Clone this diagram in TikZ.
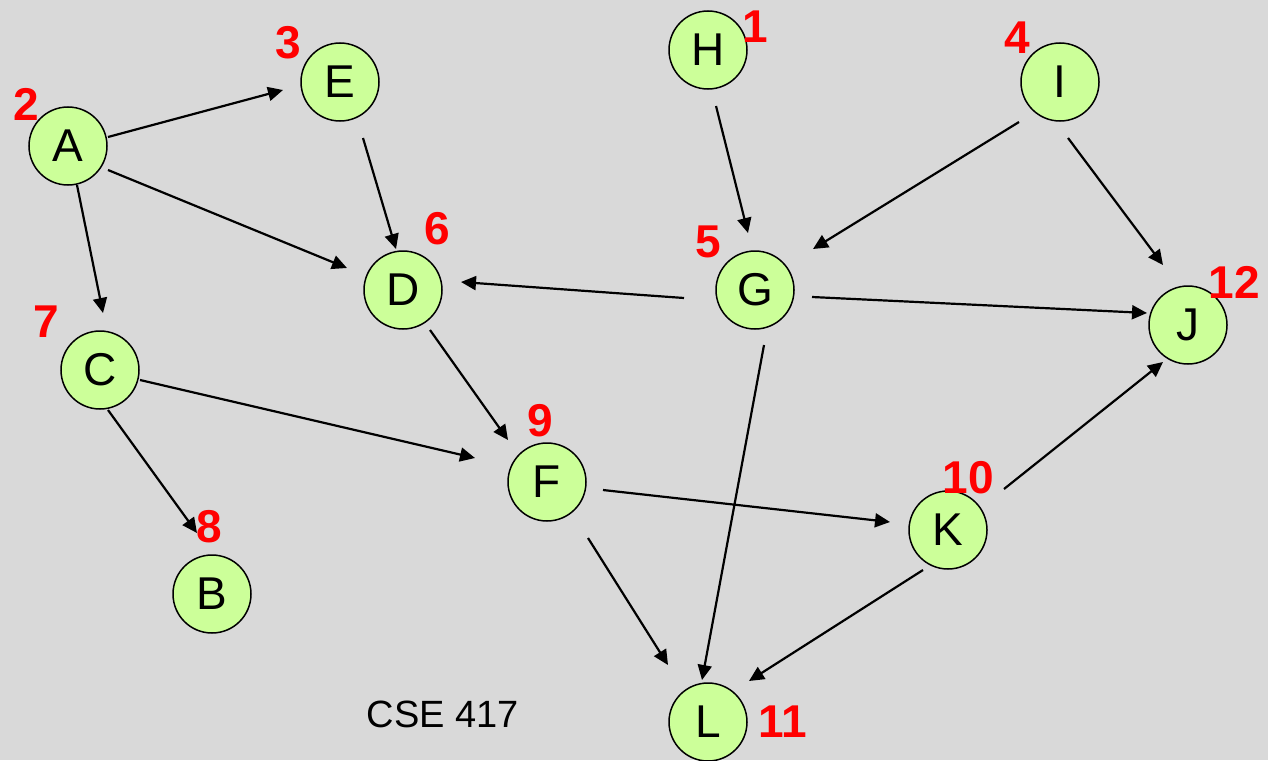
\documentclass[tikz,border=0pt]{standalone}
\usepackage{fontspec}
\setmainfont{Liberation Sans}
\usetikzlibrary{arrows.meta}
\definecolor{bgcol}{HTML}{D9D9D9}
\definecolor{nodefill}{HTML}{CCFF99}
\begin{document}
\begin{tikzpicture}[x=1pt,y=-1pt,
  vert/.style={circle, draw=black, line width=1.5pt, fill=nodefill, minimum size=78pt, inner sep=0pt, font=\fontsize{46}{46}\selectfont},
  num/.style={text=red, font=\fontsize{46}{46}\selectfont\bfseries, inner sep=0pt},
  arr/.style={line width=2.2pt, -{Triangle[length=15pt,width=14pt]}}]
\fill[bgcol] (0,0) rectangle (1268,760);
\useasboundingbox (0,0) rectangle (1268,760);
% vertices
\node[vert] (A) at (68,146) {A};
\node[vert] (E) at (340,82) {E};
\node[vert] (H) at (708,50) {H};
\node[vert] (I) at (1060,82) {I};
\node[vert] (D) at (403,290) {D};
\node[vert] (G) at (755,290) {G};
\node[vert] (J) at (1188,325) {J};
\node[vert] (C) at (100,370) {C};
\node[vert] (F) at (547,482) {F};
\node[vert] (K) at (948,530) {K};
\node[vert] (B) at (212,594) {B};
\node[vert] (L) at (708,722) {L};
% numbers
\node[num] (n1) at (755,27) {1};
\node[num] (n2) at (26,104) {2};
\node[num] (n3) at (288,43) {3};
\node[num] (n4) at (1017,38) {4};
\node[num] (n5) at (708,242) {5};
\node[num] (n6) at (437,229) {6};
\node[num] (n7) at (46,322) {7};
\node[num] (n8) at (209,527) {8};
\node[num] (n9) at (540,421) {9};
\node[num] (n10) at (968,478) {10};
\node[num] (n11) at (783,722) {11};
\node[num] (n12) at (1234,282) {12};
% caption
\node[font=\fontsize{38}{38}\selectfont, inner sep=0pt] (cap) at (443,714) {CSE 417};
% edges
\draw[arr] ([shift={(40,-9)}]A.center) -- ([shift={(-57,8)}]E.center);
\draw[arr] ([shift={(40,24)}]A.center) -- ([shift={(-56,-22)}]D.center);
\draw[arr] ([shift={(9,39)}]A.center) -- ([shift={(3,-57)}]C.center);
\draw[arr] ([shift={(23,56)}]E.center) -- ([shift={(-7,-41)}]D.center);
\draw[arr] ([shift={(8,56)}]H.center) -- ([shift={(-7,-57)}]G.center);
\draw[arr] ([shift={(-41,40)}]I.center) -- ([shift={(58,-41)}]G.center);
\draw[arr] ([shift={(8,56)}]I.center) -- ([shift={(-25,-60)}]J.center);
\draw[arr] ([shift={(-71,8)}]G.center) -- ([shift={(58,-8)}]D.center);
\draw[arr] ([shift={(57,7)}]G.center) -- ([shift={(-41,-12)}]J.center);
\draw[arr] ([shift={(9,55)}]G.center) -- ([shift={(-6,-42)}]L.center);
\draw[arr] ([shift={(27,40)}]D.center) -- ([shift={(-39,-42)}]F.center);
\draw[arr] ([shift={(40,10)}]C.center) -- ([shift={(-72,-24)}]F.center);
\draw[arr] ([shift={(8,40)}]C.center) -- ([shift={(-15,-61)}]B.center);
\draw[arr] ([shift={(56,8)}]F.center) -- ([shift={(-58,-8)}]K.center);
\draw[arr] ([shift={(41,56)}]F.center) -- ([shift={(-40,-57)}]L.center);
\draw[arr] ([shift={(56,-41)}]K.center) -- ([shift={(-25,37)}]J.center);
\draw[arr] ([shift={(-25,40)}]K.center) -- ([shift={(41,-41)}]L.center);
\end{tikzpicture}
\end{document}
